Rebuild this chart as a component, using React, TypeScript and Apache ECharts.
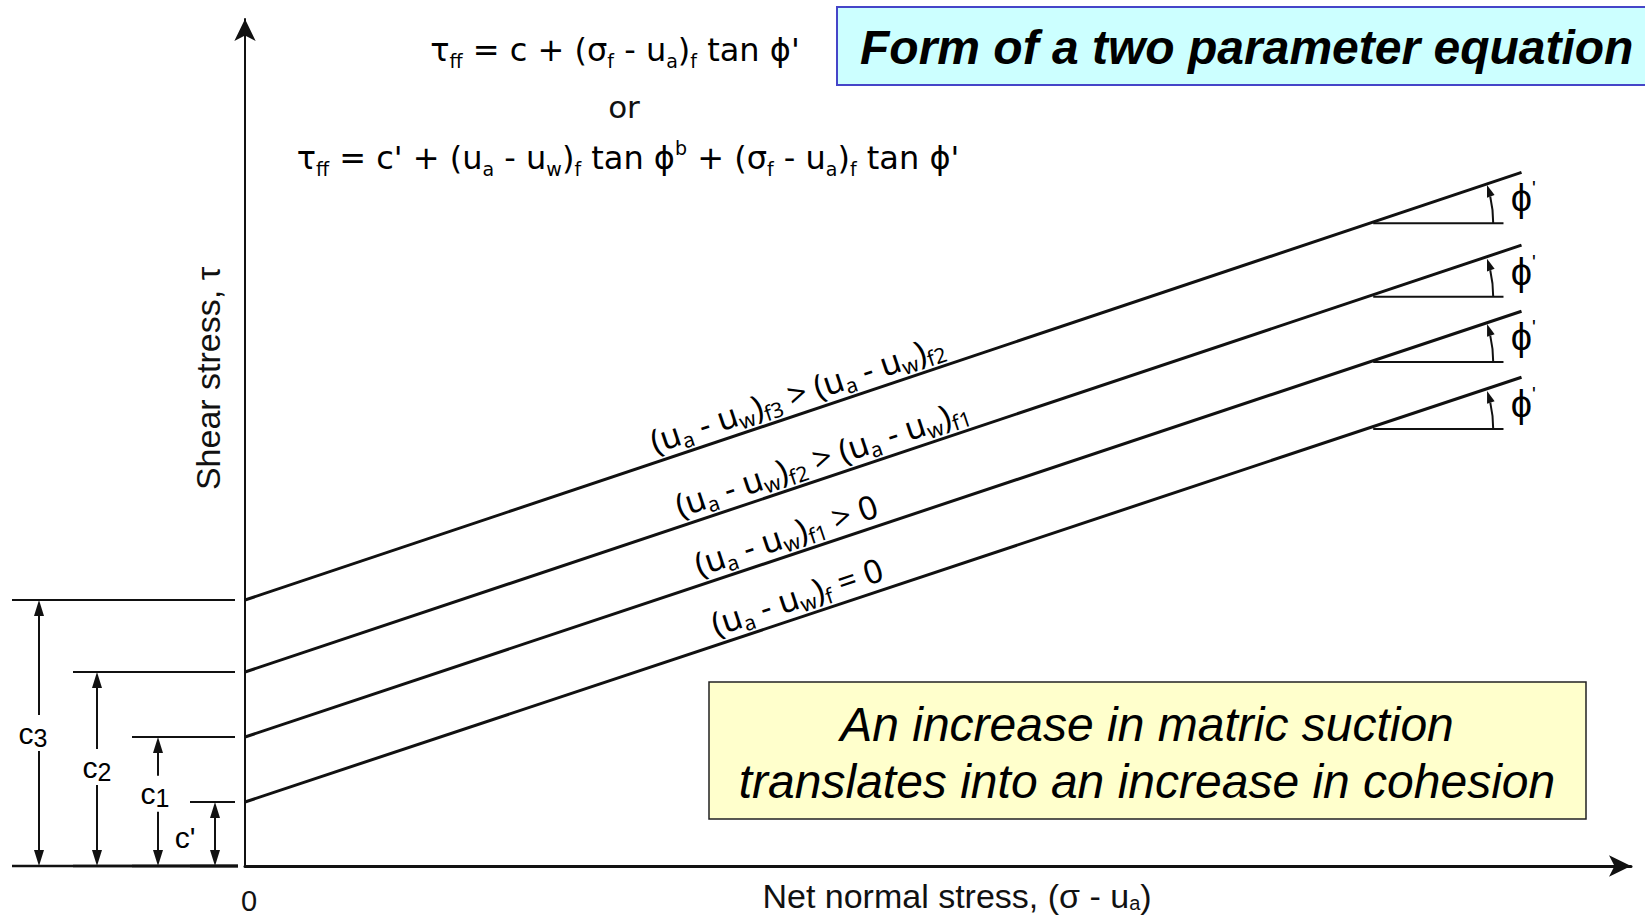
import React, { useEffect, useRef } from "react";
import * as echarts from "echarts";

const WIDTH = 1645;
const HEIGHT = 917;

// Shear strength envelopes, from the saturated case up to the highest matric suction
const envelopeLabels = [
  "(u_{a} - u_{w})_{f} = 0",
  "(u_{a} - u_{w})_{f1} > 0",
  "(u_{a} - u_{w})_{f2} > (u_{a} - u_{w})_{f1}",
  "(u_{a} - u_{w})_{f3} > (u_{a} - u_{w})_{f2}",
];
const cohesionNames = ["c'", "c_{1}", "c_{2}", "c_{3}"];
// intercept on the shear stress axis (net normal stress = 0)
const cohesion = [7.56, 15.23, 22.9, 31.4];
// far end of each envelope
const envelopeEndX = [92.1, 92.1, 92.1, 92.1];
const envelopeEndY = [57.7, 65.5, 73.3, 81.9];
// vertex and horizontal reference of the φ' angle drawn on each envelope
const angleVertexX = [81.4, 81.4, 81.4, 81.4];
const angleVertexY = [51.6, 59.5, 67.2, 75.9];
const angleRefEndX = [90.8, 90.8, 90.8, 90.8];
// position along each envelope where its suction label sits
const labelAtX = [40.3, 39.5, 42.1, 40.3];

const equationSimple = "τ_{ff} = c + (σ_{f} - u_{a})_{f} tan ϕ'";
const equationFull = "τ_{ff} = c' + (u_{a} - u_{w})_{f} tan ϕ^{b} + (σ_{f} - u_{a})_{f} tan ϕ'";
const titleText = "Form of a two parameter equation";
const noteLines = ["An increase in matric suction", "translates into an increase in cohesion"];

// layout of the cohesion dimension marks, in pixels left of the τ axis
const DIM_ARROW_OFFSET = [30, 87, 148, 206];
const DIM_EXT_OFFSET = [55, 113, 172, 233];
const DIM_LABEL_DX = [-30, -3, 0, -6];
const DIM_LABEL_FRAC = [0.55, 0.44, 0.49, 0.5];

const INK = "#111111";
const SANS = "Liberation Sans, Arial, sans-serif";
const WIDE = "DejaVu Sans, Noto Sans, sans-serif";
const ROUND = "Noto Sans, DejaVu Sans, sans-serif";

// "_{..}" -> subscript, "^{..}" -> superscript, everything else normal
function toRich(src: string): string {
  let out = "";
  let buf = "";
  let i = 0;
  const flush = () => {
    if (buf) {
      out += `{n|${buf}}`;
      buf = "";
    }
  };
  while (i < src.length) {
    const ch = src[i];
    if ((ch === "_" || ch === "^") && src[i + 1] === "{") {
      const end = src.indexOf("}", i + 2);
      flush();
      out += `{${ch === "_" ? "s" : "p"}|${src.slice(i + 2, end)}}`;
      i = end + 1;
    } else {
      buf += ch;
      i++;
    }
  }
  flush();
  return out;
}

function richStyles(family: string, size: number, subSize: number, lineHeight: number, extra: any = {}) {
  return {
    n: { fontFamily: family, fontSize: size, lineHeight, verticalAlign: "middle", color: INK, ...extra },
    s: { fontFamily: family, fontSize: subSize, lineHeight: subSize, verticalAlign: "bottom", color: INK, ...extra },
    p: { fontFamily: family, fontSize: subSize, lineHeight: subSize, verticalAlign: "top", color: INK, ...extra },
  };
}

function buildOption(): any {
  const envelopeSeries = cohesion.map((c, i) => ({
    type: "line",
    name: envelopeLabels[i],
    data: [
      [0, c],
      [envelopeEndX[i], envelopeEndY[i]],
    ],
    showSymbol: false,
    symbol: "none",
    silent: true,
    z: 3,
    lineStyle: { color: INK, width: 3 },
  }));

  const envelopeLabelSeries = {
    type: "custom",
    name: "suction labels",
    silent: true,
    z: 4,
    data: labelAtX.map((x, i) => [x, cohesion[i]]),
    encode: { x: 0, y: 1 },
    renderItem: (params: any, api: any) => {
      const i = params.dataIndex;
      const a = api.coord([0, cohesion[i]]);
      const b = api.coord([envelopeEndX[i], envelopeEndY[i]]);
      const t = api.value(0) / envelopeEndX[i];
      const px = a[0] + (b[0] - a[0]) * t;
      const py = a[1] + (b[1] - a[1]) * t;
      const dx = b[0] - a[0];
      const dy = b[1] - a[1];
      const len = Math.hypot(dx, dy);
      const off = 21;
      const nx = dy / len;
      const ny = -dx / len;
      return {
        type: "text",
        x: px + nx * off,
        y: py + ny * off,
        rotation: Math.atan2(-dy, dx),
        style: {
          text: toRich(envelopeLabels[i]),
          rich: richStyles(ROUND, 33, 21, 40),
          align: "center",
          verticalAlign: "middle",
        },
      };
    },
  };

  const angleSeries = {
    type: "custom",
    name: "friction angle",
    silent: true,
    z: 4,
    data: angleVertexX.map((x, i) => [x, angleVertexY[i], angleRefEndX[i]]),
    encode: { x: 0, y: 1 },
    renderItem: (params: any, api: any) => {
      const i = params.dataIndex;
      const v = api.coord([api.value(0), api.value(1)]);
      const e = api.coord([api.value(2), api.value(1)]);
      const a = api.coord([0, cohesion[i]]);
      const b = api.coord([envelopeEndX[i], envelopeEndY[i]]);
      const ang = Math.atan2(a[1] - b[1], b[0] - a[0]);
      const r = 120;
      const tip = [v[0] + r * Math.cos(ang), v[1] - r * Math.sin(ang)];
      const dir = [-Math.sin(ang), -Math.cos(ang)];
      const hl = 12;
      const hw = 4;
      const base = [tip[0] - dir[0] * hl, tip[1] - dir[1] * hl];
      const perp = [-dir[1], dir[0]];
      return {
        type: "group",
        children: [
          {
            type: "line",
            shape: { x1: v[0], y1: v[1], x2: e[0], y2: e[1] },
            style: { stroke: INK, lineWidth: 2 },
          },
          {
            type: "arc",
            shape: { cx: v[0], cy: v[1], r, startAngle: -ang + hl / r, endAngle: 0, clockwise: true },
            style: { stroke: INK, lineWidth: 2, fill: null },
          },
          {
            type: "polygon",
            shape: {
              points: [
                tip,
                [base[0] + perp[0] * hw, base[1] + perp[1] * hw],
                [base[0] - perp[0] * hw, base[1] - perp[1] * hw],
              ],
            },
            style: { fill: INK },
          },
          {
            type: "text",
            x: v[0] + 150,
            y: v[1] - 25,
            style: {
              text: "{g|ϕ}{q|'}",
              rich: {
                g: { fontFamily: SANS, fontSize: 38, lineHeight: 40, verticalAlign: "middle", color: INK },
                q: { fontFamily: SANS, fontSize: 20, lineHeight: 20, verticalAlign: "top", color: INK },
              },
              align: "center",
              verticalAlign: "middle",
            },
          },
        ],
      };
    },
  };

  const cohesionSeries = {
    type: "custom",
    name: "cohesion",
    silent: true,
    z: 4,
    data: cohesion.map((c) => [0, c]),
    encode: { x: 0, y: 1 },
    renderItem: (params: any, api: any) => {
      const i = params.dataIndex;
      const origin = api.coord([0, 0]);
      const top = api.coord([0, api.value(1)]);
      const ax = origin[0];
      const xa = ax - DIM_ARROW_OFFSET[i];
      const xe = ax - DIM_EXT_OFFSET[i];
      const yt = top[1];
      const yb = origin[1];
      const head = 16;
      const hw = 5;
      const ly = yt + (yb - yt) * DIM_LABEL_FRAC[i];
      return {
        type: "group",
        children: [
          { type: "line", shape: { x1: xe, y1: yt, x2: ax - 10, y2: yt }, style: { stroke: INK, lineWidth: 2 } },
          { type: "line", shape: { x1: xe, y1: yb, x2: ax - 7, y2: yb }, style: { stroke: INK, lineWidth: 2.5 } },
          { type: "line", shape: { x1: xa, y1: yt + head, x2: xa, y2: yb - head }, style: { stroke: INK, lineWidth: 2 } },
          {
            type: "polygon",
            shape: { points: [[xa, yt], [xa - hw, yt + head], [xa + hw, yt + head]] },
            style: { fill: INK },
          },
          {
            type: "polygon",
            shape: { points: [[xa, yb], [xa - hw, yb - head], [xa + hw, yb - head]] },
            style: { fill: INK },
          },
          {
            type: "text",
            x: xa + DIM_LABEL_DX[i],
            y: ly,
            z2: 10,
            style: {
              text: toRich(cohesionNames[i]),
              rich: richStyles(SANS, 30, 25, 34),
              align: "center",
              verticalAlign: "middle",
              backgroundColor: i > 0 ? "#ffffff" : "transparent",
              padding: [1, 0],
            },
          },
        ],
      };
    },
  };

  return {
    animation: false,
    backgroundColor: "#ffffff",
    grid: { left: 245, right: 14, top: 19, bottom: 51, outerBoundsMode: "none", containLabel: false },
    xAxis: {
      type: "value",
      min: 0,
      max: 100,
      interval: 100,
      name: toRich("Net normal stress, (σ - u_{a})"),
      nameLocation: "middle",
      nameGap: 13,
      nameMoveOverlap: false,
      nameTextStyle: {
        padding: [0, 0, 0, 38],
        rich: richStyles(SANS, 34, 20, 34),
      },
      axisLine: {
        show: true,
        onZero: false,
        symbol: ["none", "arrow"],
        symbolSize: [16, 22],
        lineStyle: { color: INK, width: 3 },
      },
      axisTick: { show: false },
      splitLine: { show: false },
      axisLabel: {
        show: true,
        margin: 20,
        fontSize: 29,
        fontFamily: SANS,
        color: INK,
        showMaxLabel: false,
        padding: [0, 0, 0, 8],
        formatter: (v: number) => (v === 0 ? "0" : ""),
      },
    },
    yAxis: {
      type: "value",
      min: 0,
      max: 100,
      interval: 100,
      name: "Shear stress, τ",
      nameLocation: "middle",
      nameRotate: 90,
      nameGap: 20,
      nameMoveOverlap: false,
      nameTextStyle: {
        fontFamily: SANS,
        fontSize: 34,
        color: INK,
        padding: [0, 0, 0, 128],
      },
      axisLine: {
        show: true,
        onZero: false,
        symbol: ["none", "arrow"],
        symbolSize: [16, 22],
        lineStyle: { color: INK, width: 2 },
      },
      axisTick: { show: false },
      splitLine: { show: false },
      axisLabel: { show: false },
    },
    series: [...envelopeSeries, envelopeLabelSeries, angleSeries, cohesionSeries],
    graphic: [
      {
        type: "text",
        x: 615,
        y: 50,
        style: {
          text: toRich(equationSimple),
          rich: richStyles(WIDE, 32, 19, 40),
          align: "center",
          verticalAlign: "middle",
        },
      },
      {
        type: "text",
        x: 624,
        y: 107,
        style: { text: "or", fontFamily: WIDE, fontSize: 31, fill: INK, align: "center", verticalAlign: "middle" },
      },
      {
        type: "text",
        x: 628,
        y: 158,
        style: {
          text: toRich(equationFull),
          rich: richStyles(WIDE, 32, 19, 40),
          align: "center",
          verticalAlign: "middle",
        },
      },
      {
        type: "rect",
        shape: { x: 837, y: 7, width: 830, height: 78 },
        style: { fill: "#ccffff", stroke: "#4545c8", lineWidth: 2 },
      },
      {
        type: "text",
        x: 860,
        y: 47,
        style: {
          text: titleText,
          fontFamily: SANS,
          fontSize: 48,
          fontWeight: "bold",
          fontStyle: "italic",
          fill: "#000000",
          align: "left",
          verticalAlign: "middle",
        },
      },
      {
        type: "rect",
        shape: { x: 709, y: 682, width: 877, height: 137 },
        style: { fill: "#ffffcc", stroke: "#222222", lineWidth: 1.5 },
      },
      ...noteLines.map((line, k) => ({
        type: "text",
        x: 1147,
        y: 724 + k * 57,
        style: {
          text: line,
          fontFamily: SANS,
          fontSize: 48,
          fontStyle: "italic",
          fill: "#000000",
          align: "center",
          verticalAlign: "middle",
        },
      })),
    ],
  };
}

export default function App() {
  const ref = useRef<HTMLDivElement>(null);
  useEffect(() => {
    if (!ref.current) return;
    const chart = echarts.init(ref.current, null, { renderer: "svg" });
    chart.setOption(buildOption());
    return () => chart.dispose();
  }, []);
  return (
    <div
      ref={ref}
      style={{ position: "fixed", left: 0, top: 0, width: WIDTH, height: HEIGHT, background: "#ffffff" }}
    />
  );
}
